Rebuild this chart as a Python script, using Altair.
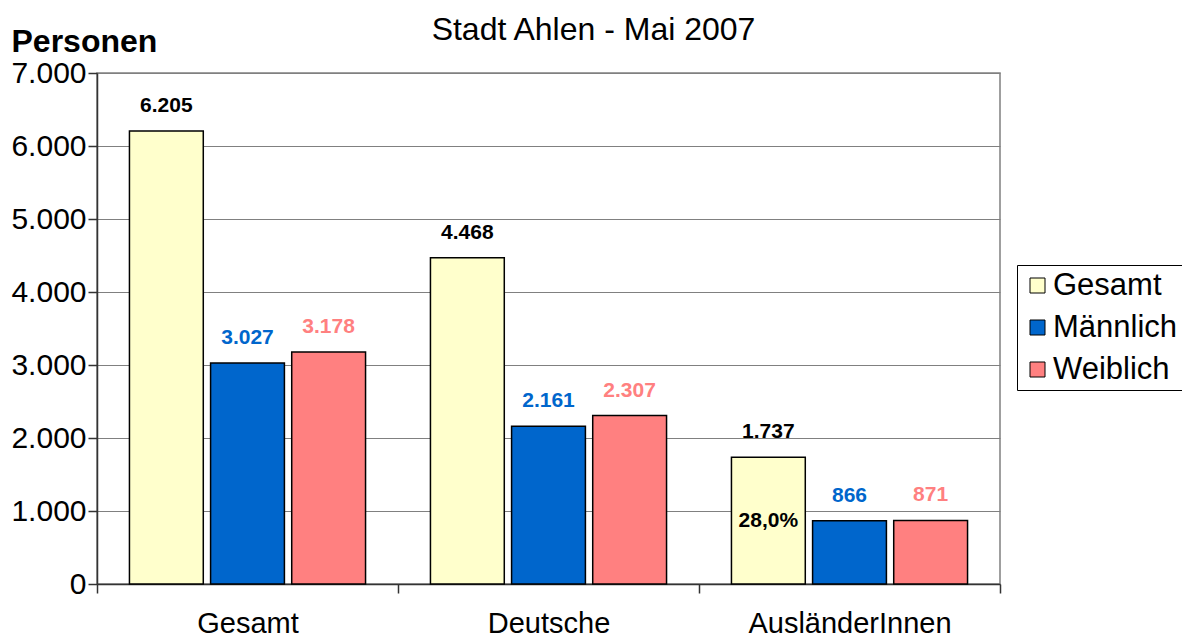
import altair as alt
import pandas as pd

gruppen = ["Gesamt", "Deutsche", "AusländerInnen"]
serien = ["Gesamt", "Männlich", "Weiblich"]
gesamt = [6205, 4468, 1737]
maennlich = [3027, 2161, 866]
weiblich = [3178, 2307, 871]
y_ticks = [0, 1000, 2000, 3000, 4000, 5000, 6000, 7000]
fill_colors = ["#FFFFCC", "#0066CC", "#FF8080"]
text_colors = ["#000000", "#0066CC", "#FF8080"]

rows = []
for i, g in enumerate(gruppen):
    for s, vals in zip(serien, [gesamt, maennlich, weiblich]):
        rows.append({"Gruppe": g, "Serie": s, "Wert": vals[i]})
df = pd.DataFrame(rows)
df["Label"] = df["Wert"].map(lambda v: f"{v:,}".replace(",", "."))

anteil = gesamt[2] / gesamt[0] * 100
df_pct = pd.DataFrame([{
    "Gruppe": gruppen[2], "Serie": serien[0], "Wert": gesamt[2],
    "Label": f"{anteil:.1f}%".replace(".", ","),
}])

FONT = "Liberation Sans"

x_enc = alt.X(
    "Gruppe:N", sort=gruppen,
    scale=alt.Scale(paddingInner=0, paddingOuter=0),
    axis=alt.Axis(title=None, labelAngle=0, labelFontSize=29, labelColor="#000",
                  labelLimit=0, tickBand="extent", tickSize=9, labelPadding=16,
                  domainColor="#333", tickColor="#333", domainWidth=1.5, tickWidth=1.5,
                  grid=False),
)
xoff_enc = alt.XOffset("Serie:N", sort=serien,
                       scale=alt.Scale(paddingInner=0.09, paddingOuter=0.4))
y_enc = alt.Y(
    "Wert:Q", scale=alt.Scale(domain=[0, 7000], nice=False),
    axis=alt.Axis(values=y_ticks,
                  labelExpr="replace(format(datum.value, ','), ',', '.')",
                  title="Personen", titleAngle=0, titleX=-86, titleY=-22,
                  titleAlign="left", titleBaseline="alphabetic",
                  titleFontSize=32, titleFontWeight="bold", titleColor="#000",
                  labelFontSize=30, labelColor="#000", labelPadding=2, tickSize=9,
                  gridColor="#808080", gridWidth=1.2,
                  domainColor="#333", tickColor="#333", domainWidth=1.5, tickWidth=1.5),
)

bars = alt.Chart(df).mark_bar(stroke="#000", strokeWidth=1.5).encode(
    x=x_enc, xOffset=xoff_enc, y=y_enc,
    color=alt.Color("Serie:N", sort=serien,
                    scale=alt.Scale(domain=serien, range=fill_colors),
                    legend=alt.Legend(title=None, orient="none", legendX=920, legendY=192,
                                      strokeColor="#000", padding=5,
                                      symbolType="square", symbolSize=225,
                                      symbolStrokeColor="#000", symbolStrokeWidth=1,
                                      labelFontSize=31, labelColor="#000", labelOffset=0,
                                      labelLimit=0, rowPadding=10, fillColor="#fff")),
)

labels = alt.Chart(df).mark_text(
    fontSize=21, fontWeight="bold", baseline="alphabetic", dy=-19
).encode(
    x=alt.X("Gruppe:N", sort=gruppen), xOffset=alt.XOffset("Serie:N", sort=serien),
    y=alt.Y("Wert:Q"), text="Label:N",
    color=alt.Color("Serie:N", scale=alt.Scale(domain=serien, range=text_colors), legend=None),
)

pct = alt.Chart(df_pct).transform_calculate(
    Mitte="datum.Wert / 2"
).mark_text(fontSize=21, fontWeight="bold", baseline="middle", color="#000").encode(
    x=alt.X("Gruppe:N", sort=gruppen), xOffset=alt.XOffset("Serie:N", sort=serien),
    y=alt.Y("Mitte:Q"), text="Label:N",
)

chart = alt.layer(bars, labels, pct).resolve_scale(color="independent").properties(
    width=903, height=511,
    autosize=alt.AutoSizeParams(type="none"),
    padding={"left": 89, "top": 65, "right": 182, "bottom": 54},
    title=alt.TitleParams("Stadt Ahlen - Mai 2007", fontSize=32, fontWeight="normal",
                          anchor="middle", dx=45, offset=-22, color="#000", font=FONT),
).configure(font=FONT).configure_view(stroke="#808080", strokeWidth=1.5)

chart.save("out.html", embed_options={"renderer": "svg", "actions": False})
